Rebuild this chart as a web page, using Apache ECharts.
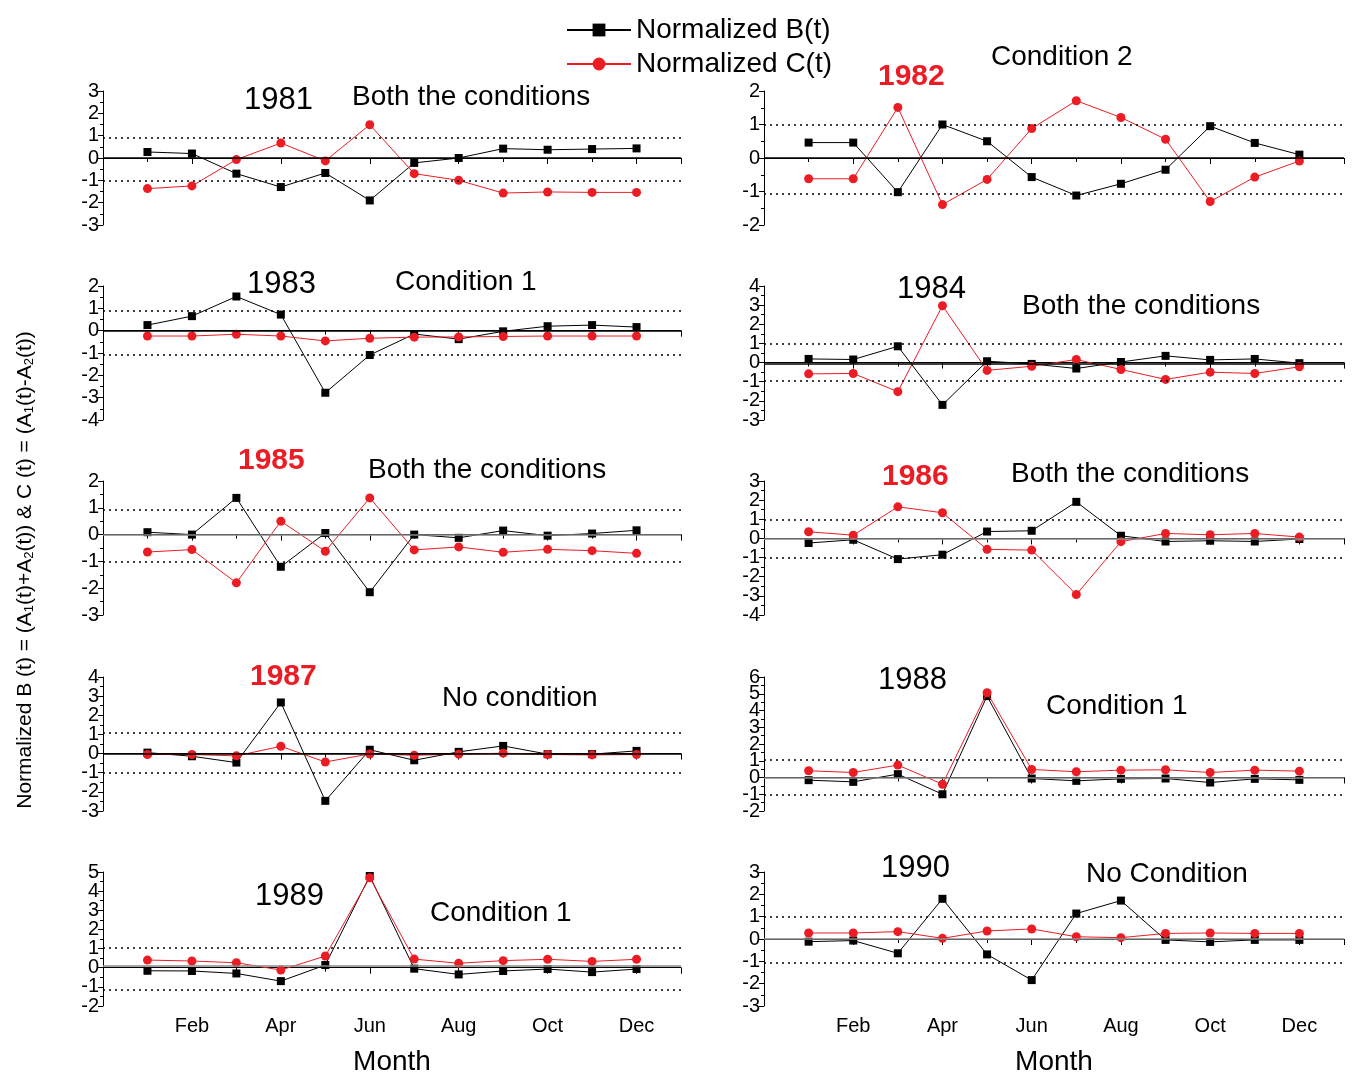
<!DOCTYPE html>
<html>
<head>
<meta charset="utf-8">
<title>Normalized B(t) and C(t), 1981-1990</title>
<script src="https://cdn.jsdelivr.net/npm/echarts@6/dist/echarts.min.js"></script>
<style>
html, body { margin: 0; padding: 0; background: #fff; }
#main { width: 1352px; height: 1075px; }
</style>
</head>
<body>
<div id="main"></div>
<script>
// month labels on the x axis (value 1..12)
var monthNames = ['', 'Jan', 'Feb', 'Mar', 'Apr', 'May', 'Jun', 'Jul', 'Aug', 'Sep', 'Oct', 'Nov', 'Dec', ''];
var months = [1, 2, 3, 4, 5, 6, 7, 8, 9, 10, 11, 12];

var years = ['1981', '1982', '1983', '1984', '1985', '1986', '1987', '1988', '1989', '1990'];
var conditions = ['Both the conditions', 'Condition 2', 'Condition 1', 'Both the conditions', 'Both the conditions',
  'Both the conditions', 'No condition', 'Condition 1', 'Condition 1', 'No Condition'];
var yearInRed = [false, true, false, false, true, true, true, false, false, false];

// y axis range for each panel
var yMin = [-3, -2, -4, -3, -3, -4, -3, -2, -2, -3];
var yMax = [3, 2, 2, 4, 2, 3, 4, 6, 5, 3];

// reference lines (dotted upper / lower, solid zero)
var upperRef = [0.9, 1.0, 0.9, 0.97, 0.93, 1.0, 1.1, 1.08, 1.04, 1.0];
var lowerRef = [-1.03, -1.07, -1.06, -0.97, -1.03, -1.0, -1.0, -1.0, -1.17, -1.06];
var zeroRef = [0, 0, 0, -0.05, 0, 0, 0, 0, 0.1, 0];

// normalized B(t), Jan..Dec
var b1981 = [0.27, 0.2, -0.7, -1.3, -0.67, -1.9, -0.22, 0, 0.42, 0.37, 0.4, 0.43];
var b1982 = [0.46, 0.46, -1.02, 1.0, 0.5, -0.57, -1.12, -0.77, -0.35, 0.95, 0.45, 0.1];
var b1983 = [0.25, 0.65, 1.53, 0.72, -2.78, -1.09, -0.15, -0.38, -0.03, 0.2, 0.25, 0.16];
var b1984 = [0.19, 0.16, 0.85, -2.21, 0.07, -0.07, -0.31, 0.03, 0.35, 0.14, 0.19, -0.03];
var b1985 = [0.09, 0, 1.37, -1.2, 0.06, -2.15, 0, -0.12, 0.15, -0.04, 0.04, 0.16];
var b1986 = [-0.24, -0.07, -1.08, -0.85, 0.36, 0.4, 1.91, 0.14, -0.16, -0.12, -0.16, -0.03];
var b1987 = [0.05, -0.14, -0.47, 2.67, -2.47, 0.2, -0.35, 0.09, 0.4, -0.03, -0.03, 0.14];
var b1988 = [-0.16, -0.26, 0.2, -1.0, 4.86, -0.06, -0.2, -0.08, -0.06, -0.3, -0.08, -0.14];
var b1989 = [-0.16, -0.17, -0.3, -0.7, 0.14, 4.79, -0.05, -0.35, -0.17, -0.07, -0.23, -0.07];
var b1990 = [-0.12, -0.07, -0.64, 1.8, -0.69, -1.84, 1.14, 1.72, -0.04, -0.13, -0.04, -0.04];

// normalized C(t), Jan..Dec
var c1981 = [-1.37, -1.25, -0.07, 0.67, -0.13, 1.49, -0.7, -1.0, -1.57, -1.52, -1.54, -1.54];
var c1982 = [-0.62, -0.62, 1.51, -1.39, -0.64, 0.88, 1.71, 1.21, 0.56, -1.3, -0.57, -0.09];
var c1983 = [-0.24, -0.24, -0.16, -0.24, -0.46, -0.34, -0.29, -0.28, -0.26, -0.24, -0.24, -0.24];
var c1984 = [-0.59, -0.57, -1.52, 2.97, -0.41, -0.19, 0.16, -0.36, -0.88, -0.5, -0.57, -0.22];
var c1985 = [-0.65, -0.56, -1.8, 0.5, -0.62, 1.37, -0.57, -0.46, -0.66, -0.55, -0.6, -0.7];
var c1986 = [0.35, 0.17, 1.65, 1.34, -0.57, -0.61, -2.93, -0.17, 0.26, 0.19, 0.26, 0.07];
var c1987 = [-0.05, -0.05, -0.12, 0.38, -0.44, -0.02, -0.09, -0.03, 0.02, -0.05, -0.07, -0.05];
var c1988 = [0.4, 0.3, 0.74, -0.4, 5.06, 0.48, 0.34, 0.44, 0.46, 0.3, 0.44, 0.38];
var c1989 = [0.4, 0.35, 0.26, -0.12, 0.61, 4.7, 0.45, 0.23, 0.37, 0.44, 0.33, 0.44];
var c1990 = [0.27, 0.27, 0.33, 0.03, 0.36, 0.45, 0.1, 0.06, 0.25, 0.27, 0.25, 0.25];

var bValues = [b1981, b1982, b1983, b1984, b1985, b1986, b1987, b1988, b1989, b1990];
var cValues = [c1981, c1982, c1983, c1984, c1985, c1986, c1987, c1988, c1989, c1990];

// layout
var font = '"Liberation Sans", Arial, sans-serif';
var red = '#ec1c24';
var colLeft = [103, 764];
var colWidth = [578, 580];
var rowTop = [91, 286, 481, 677, 872];
var panelHeight = 134;
var zeroColor = ['#000', '#000', '#000', '#000', '#888', '#888', '#000', '#888', '#888', '#888'];
var yearPos = [[244, 100], [878, 77], [247, 284], [897, 289], [238, 461],
  [882, 477], [250, 677], [878, 680], [255, 896], [881, 868]];
var condPos = [[352, 97], [991, 57], [395, 282], [1022, 306], [368, 470],
  [1011, 474], [442, 698], [1046, 706], [430, 913], [1086, 874]];

var yLabelStyle = { color: '#000', fontSize: 20, fontFamily: font, margin: 4 };

var grids = [], xAxes = [], yAxes = [], series = [], graphics = [];

years.forEach(function (yr, i) {
  var col = i % 2, row = Math.floor(i / 2);
  var bottomRow = row === 4;
  grids.push({
    left: colLeft[col], top: rowTop[row], width: colWidth[col], height: panelHeight,
    containLabel: false, outerBoundsMode: 'none'
  });
  xAxes.push({
    gridIndex: i, type: 'value', min: 0, max: 13, interval: 2,
    axisLine: { lineStyle: { color: '#000', width: 1 } },
    axisTick: { show: true, length: 6, lineStyle: { color: '#000' } },
    minorTick: { show: true, splitNumber: 2, length: 4, lineStyle: { color: '#000' } },
    splitLine: { show: false },
    axisLabel: {
      show: bottomRow, color: '#000', fontSize: 20, fontFamily: font, margin: 10,
      formatter: function (v) { return v > 0 && v < 13 ? monthNames[v] : ''; }
    },
    name: bottomRow ? 'Month' : '', nameLocation: 'middle', nameGap: 42,
    nameTextStyle: { color: '#000', fontSize: 28, fontFamily: font }
  });
  // inner tick labels (the end labels are drawn by the second axis so none get dropped)
  yAxes.push({
    gridIndex: i, type: 'value', position: 'left', min: yMin[i], max: yMax[i], interval: 1,
    axisLine: { show: true, lineStyle: { color: '#000', width: 1 } },
    axisTick: { show: true, length: 5, lineStyle: { color: '#000' } },
    minorTick: { show: true, splitNumber: 2, length: 3, lineStyle: { color: '#000' } },
    splitLine: { show: false },
    axisLabel: Object.assign({ showMinLabel: false, showMaxLabel: false }, yLabelStyle)
  });
  yAxes.push({
    gridIndex: i, type: 'value', position: 'left', offset: 0,
    min: yMin[i], max: yMax[i], interval: yMax[i] - yMin[i],
    axisLine: { show: false },
    axisTick: { show: true, length: 5, lineStyle: { color: '#000' } },
    minorTick: { show: false },
    splitLine: { show: false },
    axisLabel: yLabelStyle
  });
  series.push({
    name: 'Normalized B(t)', type: 'line', xAxisIndex: i, yAxisIndex: 2 * i,
    data: months.map(function (m, k) { return [m, bValues[i][k]]; }),
    symbol: 'rect', symbolSize: 8, showAllSymbol: true,
    itemStyle: { color: '#000' }, lineStyle: { color: '#000', width: 1 },
    animation: false, z: 3,
    markLine: {
      silent: true, symbol: ['none', 'none'], label: { show: false }, animation: false,
      data: [
        { yAxis: zeroRef[i], lineStyle: { type: 'solid', color: zeroColor[i], width: 1.5 } },
        { yAxis: upperRef[i], lineStyle: { type: [2, 4], color: '#000', width: 1.5 } },
        { yAxis: lowerRef[i], lineStyle: { type: [2, 4], color: '#000', width: 1.5 } }
      ]
    }
  });
  series.push({
    name: 'Normalized C(t)', type: 'line', xAxisIndex: i, yAxisIndex: 2 * i,
    data: months.map(function (m, k) { return [m, cValues[i][k]]; }),
    symbol: 'circle', symbolSize: 9, showAllSymbol: true,
    itemStyle: { color: red }, lineStyle: { color: red, width: 1 },
    animation: false, z: 4
  });
  graphics.push({
    type: 'text', x: yearPos[i][0], y: yearPos[i][1],
    style: {
      text: yr, fill: yearInRed[i] ? red : '#000',
      font: (yearInRed[i] ? 'bold 30px ' : '31px ') + font,
      textAlign: 'left', textVerticalAlign: 'middle'
    }
  });
  graphics.push({
    type: 'text', x: condPos[i][0], y: condPos[i][1],
    style: { text: conditions[i], fill: '#000', font: '28px ' + font, textAlign: 'left', textVerticalAlign: 'middle' }
  });
});

graphics.push({
  type: 'text', x: 25, y: 570, rotation: Math.PI / 2,
  style: {
    text: 'Normalized B (t) = (A{s|1}(t)+A{s|2}(t)) & C (t) = (A{s|1}(t)-A{s|2}(t))',
    fill: '#000', font: '21px ' + font, textAlign: 'center', textVerticalAlign: 'middle',
    rich: { s: { fontSize: 13, fontFamily: font, fill: '#000', verticalAlign: 'bottom', padding: [8, 0, 0, 0] } }
  }
});

var chart = echarts.init(document.getElementById('main'));
chart.setOption({
  animation: false,
  backgroundColor: '#fff',
  grid: grids,
  xAxis: xAxes,
  yAxis: yAxes,
  series: series,
  graphic: graphics,
  legend: {
    data: ['Normalized B(t)', 'Normalized C(t)'],
    orient: 'vertical', left: 561, top: 11,
    itemWidth: 64, itemHeight: 16, itemGap: 6,
    textStyle: { color: '#000', fontSize: 28, fontFamily: font },
    selectedMode: false
  }
});
</script>
</body>
</html>
